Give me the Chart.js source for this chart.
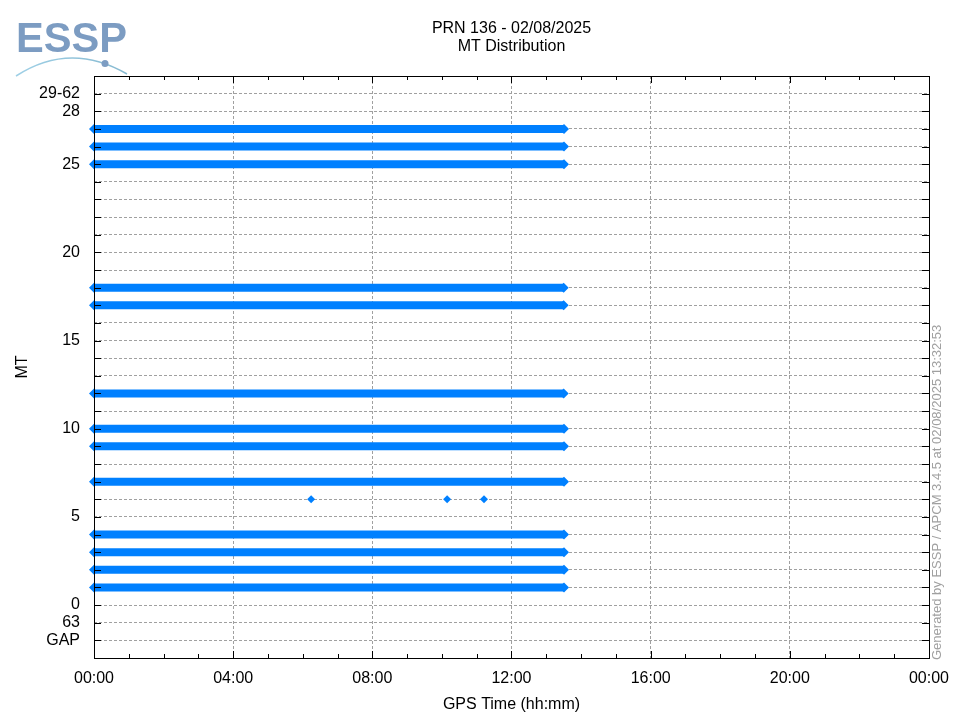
<!DOCTYPE html>
<html>
<head>
<meta charset="utf-8">
<script src="https://cdn.jsdelivr.net/npm/chart.js@4"></script>
<style>
  html, body { margin: 0; padding: 0; background: #fff; }
</style>
</head>
<body>
<canvas id="mtChart" width="960" height="720"></canvas>
<script>
// MT rows received continuously (start / end in hours of GPS time)
const mtRows = [27, 26, 25, 18, 17, 12, 10, 9, 7, 4, 3, 2, 1];
const rowStart = [0, 0, 0, 0, 0, 0, 0, 0, 0, 0, 0, 0, 0];
const rowEnd = [13.51, 13.51, 13.51, 13.5, 13.5, 13.5, 13.51, 13.51, 13.51, 13.51, 13.51, 13.51, 13.51];

// isolated MT6 messages (hours)
const mt6Times = [6.24, 10.15, 11.21];

// y axis labels (GAP and 63 sit below 0, 29-62 on top)
const yTickValues = [29, 28, 25, 20, 15, 10, 5, 0, -1, -2];
const yTickLabels = ['29-62', '28', '25', '20', '15', '10', '5', '0', '63', 'GAP'];

const titleLines = ['PRN 136 - 02/08/2025', 'MT Distribution'];

const FONT = "'Liberation Sans', Arial, sans-serif";
const BLUE = '#0080ff';
const GRID = '#a0a0a0';

const datasets = mtRows.map((mt, i) => ({
  data: [{ x: rowStart[i], y: mt }, { x: rowEnd[i], y: mt }],
  borderColor: BLUE,
  backgroundColor: BLUE,
  borderWidth: 8,
  borderCapStyle: 'butt',
  pointStyle: 'rectRot',
  pointRadius: 5,
  pointBorderWidth: 0,
  clip: false,
}));

datasets.push({
  data: mt6Times.map((t) => ({ x: t, y: 6 })),
  showLine: false,
  backgroundColor: BLUE,
  borderColor: BLUE,
  pointStyle: 'rectRot',
  pointRadius: 4,
  pointBorderWidth: 0,
  clip: false,
});

function hhmm(h) {
  return String(h % 24).padStart(2, '0') + ':00';
}

// title, frame, inner ticks, logo and footer text
const decorations = {
  id: 'decorations',
  afterDraw(chart) {
    const { ctx, chartArea: a, scales } = chart;
    const x = scales.x;
    const y = scales.y;
    ctx.save();

    ctx.fillStyle = '#000';
    ctx.font = '16px ' + FONT;
    ctx.textAlign = 'center';
    ctx.textBaseline = 'middle';
    const cx = (a.left + a.right) / 2;
    ctx.fillText(titleLines[0], cx, 28.5);
    ctx.fillText(titleLines[1], cx, 46.5);

    ctx.strokeStyle = '#000';
    ctx.lineWidth = 1;
    ctx.beginPath();
    for (let v = -2; v <= 29; v++) {
      const py = Math.round(y.getPixelForValue(v)) + 0.5;
      ctx.moveTo(a.left, py);
      ctx.lineTo(a.left + 7, py);
      ctx.moveTo(a.right, py);
      ctx.lineTo(a.right - 7, py);
    }
    for (let h = 1; h < 24; h++) {
      const px = Math.round(x.getPixelForValue(h)) + 0.5;
      const len = h % 4 === 0 ? 7 : 4;
      ctx.moveTo(px, a.bottom);
      ctx.lineTo(px, a.bottom - len);
      ctx.moveTo(px, a.top);
      ctx.lineTo(px, a.top + len);
    }
    ctx.stroke();
    ctx.strokeRect(Math.round(a.left) + 0.5, Math.round(a.top) + 0.5,
      Math.round(a.right - a.left), Math.round(a.bottom - a.top));

    // ESSP logo
    ctx.fillStyle = '#7c9cc2';
    ctx.font = 'bold 43px ' + FONT;
    ctx.textBaseline = 'alphabetic';
    ctx.textAlign = 'left';
    ctx.fillText('ESSP', 16, 52, 111);
    const grad = ctx.createLinearGradient(16, 0, 128, 0);
    grad.addColorStop(0, '#9fd0e6');
    grad.addColorStop(1, '#86b9d0');
    ctx.strokeStyle = grad;
    ctx.lineWidth = 1.5;
    ctx.beginPath();
    ctx.moveTo(16, 76);
    ctx.quadraticCurveTo(70, 41, 127, 74);
    ctx.stroke();
    ctx.fillStyle = '#7c9cc2';
    ctx.beginPath();
    ctx.arc(105, 63.5, 3.5, 0, Math.PI * 2);
    ctx.fill();

    // generated-by note
    ctx.translate(937, 660);
    ctx.rotate(-Math.PI / 2);
    ctx.fillStyle = '#a0a0a0';
    ctx.font = '13px ' + FONT;
    ctx.textBaseline = 'middle';
    ctx.textAlign = 'left';
    ctx.fillText('Generated by ESSP / APCM 3.4.5 at 02/08/2025 13:32:53', 0, 0);
    ctx.restore();
  },
};

const hideEdges = (min, max) => (c) =>
  c.tick && (c.tick.value === min || c.tick.value === max) ? 'rgba(0,0,0,0)' : GRID;

new Chart(document.getElementById('mtChart'), {
  type: 'line',
  data: { datasets },
  options: {
    responsive: false,
    animation: false,
    layout: { padding: { top: 76, right: 31, bottom: 0, left: 0 } },
    plugins: {
      legend: { display: false },
      tooltip: { enabled: false },
      title: { display: false },
    },
    scales: {
      x: {
        type: 'linear',
        min: 0,
        max: 24,
        afterFit: (s) => { s.height = 62; },
        afterBuildTicks: (s) => { s.ticks = [0, 4, 8, 12, 16, 20, 24].map((v) => ({ value: v })); },
        ticks: {
          callback: (v) => hhmm(v),
          color: '#000',
          font: { family: FONT, size: 16 },
          padding: 11,
          maxRotation: 0,
          autoSkip: false,
        },
        grid: { color: hideEdges(0, 24), drawTicks: false, lineWidth: 1 },
        border: { display: false, dash: [3, 2] },
        title: {
          display: true,
          text: 'GPS Time (hh:mm)',
          color: '#000',
          font: { family: FONT, size: 16 },
          padding: { top: 0, bottom: 6 },
        },
      },
      y: {
        type: 'linear',
        min: -3,
        max: 30,
        afterFit: (s) => { s.width = 94; },
        afterBuildTicks: (s) => {
          const t = [];
          for (let v = -3; v <= 30; v++) t.push({ value: v });
          s.ticks = t;
        },
        ticks: {
          callback: (v) => {
            const i = yTickValues.indexOf(v);
            return i >= 0 ? yTickLabels[i] : '';
          },
          color: '#000',
          font: { family: FONT, size: 16 },
          padding: 14,
          autoSkip: false,
        },
        grid: { color: hideEdges(-3, 30), drawTicks: false, lineWidth: 1 },
        border: { display: false, dash: [3, 2] },
        title: {
          display: true,
          text: 'MT',
          color: '#000',
          font: { family: FONT, size: 16 },
          padding: { top: 13, bottom: 0 },
        },
      },
    },
  },
  plugins: [decorations],
});
</script>
</body>
</html>
